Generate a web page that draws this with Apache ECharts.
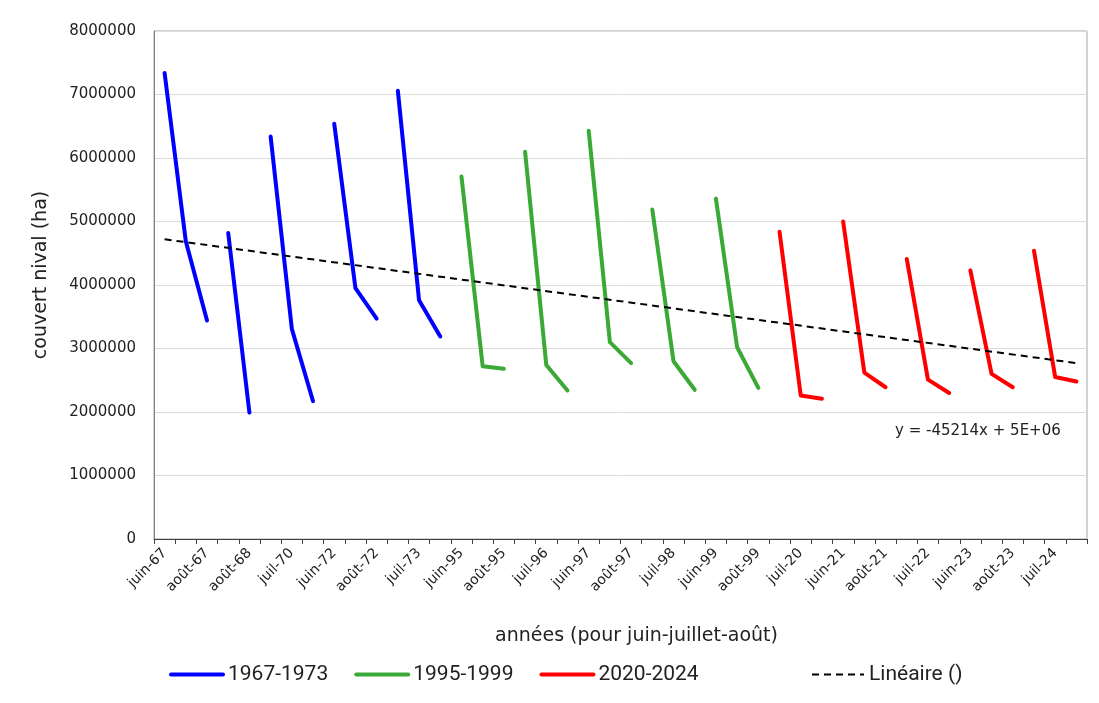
<!DOCTYPE html>
<html>
<head>
<meta charset="utf-8">
<script src="https://cdn.jsdelivr.net/npm/echarts@6/dist/echarts.min.js"></script>
<style>
  html, body { margin:0; padding:0; background:#fff; }
  #chart { width:1099px; height:703px; }
</style>
</head>
<body>
<div id="chart"></div>
<script>
const categories = [
  'juin-67','juil-67','août-67',
  'juil-68','août-68',
  'juin-70','juil-70','août-70',
  'juin-72','juil-72','août-72',
  'juin-73','juil-73','août-73',
  'juin-95','juil-95','août-95',
  'juin-96','juil-96','août-96',
  'juin-97','juil-97','août-97',
  'juin-98','juil-98','août-98',
  'juin-99','juil-99','août-99',
  'juin-20','juil-20','août-20',
  'juin-21','juil-21','août-21',
  'juin-22','juil-22','août-22',
  'juin-23','juil-23','août-23',
  'juin-24','juil-24','août-24'
];
// couvert nival (ha), dans l'ordre des catégories de chaque période
const couvert1967_1973 = [7340000,4690000,3440000, 4820000,1990000, 6340000,3310000,2170000, 6540000,3950000,3470000, 7060000,3760000,3190000];
const couvert1995_1999 = [5710000,2720000,2680000, 6100000,2740000,2340000, 6430000,3100000,2770000, 5190000,2800000,2350000, 5360000,3020000,2380000];
const couvert2020_2024 = [4840000,2260000,2210000, 5000000,2620000,2390000, 4410000,2510000,2300000, 4230000,2600000,2390000, 4540000,2550000,2480000];
// tendance linéaire : valeurs au premier et au dernier mois
const tendance = [4720000, 2770000];

const periodes = [
  { name:'1967-1973', color:'#0000ff', values:couvert1967_1973 },
  { name:'1995-1999', color:'#3aa935', values:couvert1995_1999 },
  { name:'2020-2024', color:'#ff0000', values:couvert2020_2024 }
];

// une série par année pour couper la ligne entre les années
let series = [];
let idx = 0;
periodes.forEach(p=>{
  let byYear = {};
  p.values.forEach(v=>{
    let cat = categories[idx++];
    let yr = cat.split('-')[1];
    if ( !byYear[yr] ) byYear[yr] = [];
    byYear[yr].push([cat, v]);
  });
  Object.keys(byYear).forEach(yr=>{
    series.push({
      type:'line',
      name:p.name,
      symbol:'none',
      data:byYear[yr],
      lineStyle:{ color:p.color, width:4, cap:'round', join:'round' },
      itemStyle:{ color:p.color },
      z:2
    });
  });
});
series.push({
  type:'line',
  name:'Linéaire ()',
  symbol:'none',
  data:[[categories[0], tendance[0]], [categories[categories.length-1], tendance[1]]],
  lineStyle:{ color:'#000', width:2, type:[7,5] },
  itemStyle:{ color:'#000' },
  z:3
});

const chart = echarts.init(document.getElementById('chart'));
const legendText = { fontFamily:'Roboto', fontSize:21, color:'#222' };
chart.setOption({
  animation:false,
  grid:{
    left:154, right:12, top:31, bottom:164,
    show:true, borderColor:'#a6a6a6', borderWidth:1
  },
  legend:[
    {
      left:169, top:664, padding:0,
      itemWidth:52, itemHeight:20, itemGap:26,
      itemStyle:{ opacity:0 },
      lineStyle:{ width:4 },
      textStyle:legendText,
      data:['1967-1973','1995-1999','2020-2024']
    },
    {
      left:811, top:664, padding:0,
      itemWidth:52, itemHeight:20,
      itemStyle:{ opacity:0 },
      lineStyle:{ width:2 },
      textStyle:legendText,
      data:['Linéaire ()']
    }
  ],
  xAxis:{
    type:'category',
    data:categories,
    boundaryGap:true,
    name:'années (pour juin-juillet-août)',
    nameLocation:'middle',
    nameGap:88,
    nameTextStyle:{ fontFamily:'DejaVu Sans', fontSize:19, color:'#222', padding:[0,0,0,32] },
    axisLine:{ lineStyle:{ color:'#404040', width:1 } },
    axisTick:{ show:true, interval:0, length:5, lineStyle:{ color:'#404040' } },
    axisLabel:{
      interval:1, rotate:45, margin:12,
      fontFamily:'DejaVu Sans', fontSize:14, color:'#222'
    },
    splitLine:{ show:false }
  },
  yAxis:{
    type:'value',
    min:0, max:8000000, interval:1000000,
    name:'couvert nival (ha)',
    nameLocation:'middle',
    nameGap:103,
    nameTextStyle:{ fontFamily:'DejaVu Sans', fontSize:19, color:'#222', padding:[0,0,0,20] },
    axisLine:{ show:true, lineStyle:{ color:'#808080' } },
    axisTick:{ show:false },
    axisLabel:{
      margin:18,
      fontFamily:'DejaVu Sans', fontSize:15, color:'#222',
      formatter:v=>String(v)
    },
    splitLine:{ show:true, lineStyle:{ color:'#dcdcdc', width:1 } }
  },
  graphic:[
    {
      type:'text',
      left:895, top:424,
      style:{ text:'y = -45214x + 5E+06', font:'15px "DejaVu Sans"', fill:'#222' }
    }
  ],
  series:series
});
</script>
</body>
</html>
